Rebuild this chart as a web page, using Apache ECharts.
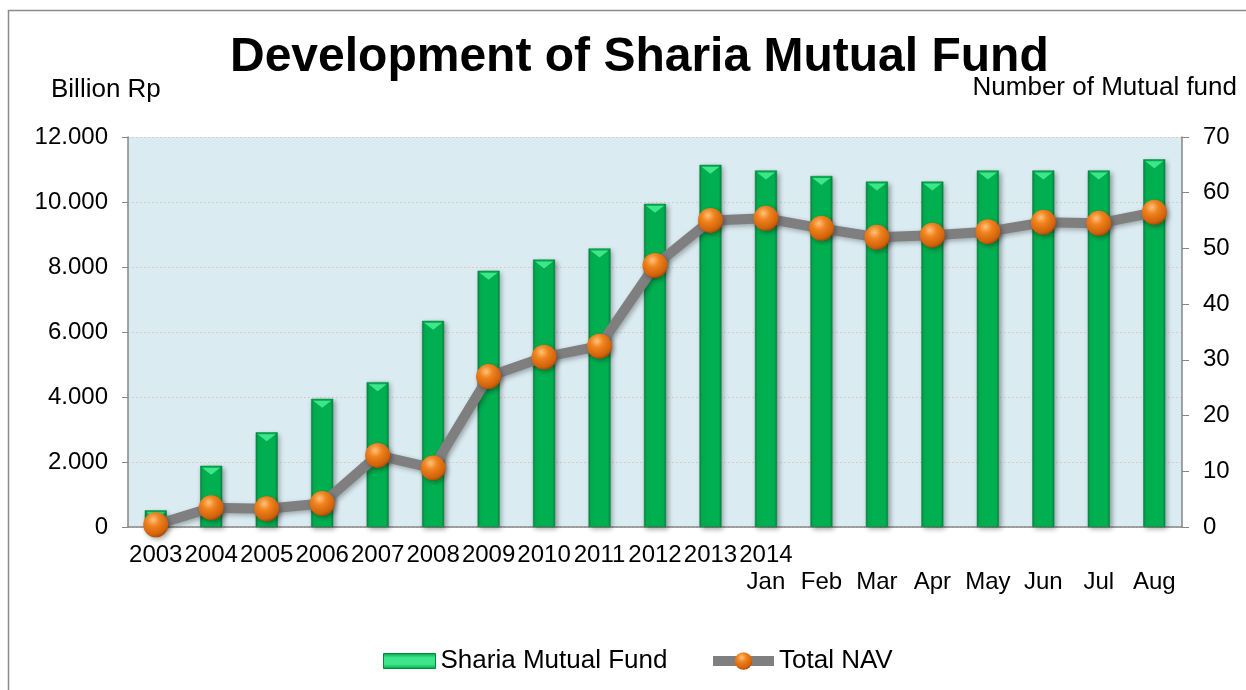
<!DOCTYPE html>
<html>
<head>
<meta charset="utf-8">
<script src="https://cdn.jsdelivr.net/npm/echarts@6/dist/echarts.min.js"></script>
<style>
html,body{margin:0;padding:0;background:#fff;}
#chart{width:1246px;height:690px;}
</style>
</head>
<body>
<div id="chart"></div>
<script>
const categories = ['2003','2004','2005','2006','2007','2008','2009','2010','2011','2012','2013','2014\nJan','\nFeb','\nMar','\nApr','\nMay','\nJun','\nJul','\nAug'];
const fundCount = [3,11,17,23,26,37,46,48,50,58,65,64,63,62,62,64,64,64,66];
const totalNAV = [67,593,559,723,2203,1815,4629,5226,5565,8050,9432,9498,9190,8914,8976,9087,9375,9345,9683];
const leftTicks = {min:0, max:12000, interval:2000};
const rightTicks = {min:0, max:70, interval:10};

const chart = echarts.init(document.getElementById('chart'));
const font = 'Liberation Sans, Arial, sans-serif';
const fmt = v => String(v).replace(/\B(?=(\d{3})+(?!\d))/g, '.');

const barColor = new echarts.graphic.LinearGradient(0,0,1,0,[
  {offset:0,color:'#00843f'},{offset:0.12,color:'#00b050'},
  {offset:0.88,color:'#00b050'},{offset:1,color:'#00843f'}]);
const legendBarColor = new echarts.graphic.LinearGradient(0,0,0,1,[
  {offset:0,color:'#00a04a'},{offset:0.3,color:'#3ee68a'},
  {offset:0.7,color:'#3ee68a'},{offset:1,color:'#00a04a'}]);
const ballColor = new echarts.graphic.RadialGradient(0.4,0.3,0.75,[
  {offset:0,color:'#ffc27a'},{offset:0.35,color:'#f0821e'},
  {offset:0.8,color:'#d0620a'},{offset:1,color:'#9a4306'}]);

chart.setOption({
  backgroundColor:'#fff',
  animation:false,
  textStyle:{fontFamily:font},
  title:{
    text:'Development of Sharia Mutual Fund',
    left:225, top:29,
    textStyle:{fontFamily:font,fontSize:48,fontWeight:'bold',color:'#000'}
  },
  graphic:[
    {type:'rect',shape:{x:8.5,y:10.5,width:1400,height:900},style:{fill:'none',stroke:'#8a8a8a',lineWidth:1.5},silent:true},
    {type:'text',left:51,top:77,style:{text:'Billion Rp',font:'26px '+font,fill:'#000'}},
    {type:'text',right:9,top:75,style:{text:'Number of Mutual fund',font:'26px '+font,fill:'#000'}}
  ],
  legend:[
    {data:[{name:'Sharia Mutual Fund',icon:'rect',itemStyle:{color:legendBarColor,borderColor:'#008a40',borderWidth:1}}],
     left:378, top:643, itemWidth:52, itemHeight:15,
     textStyle:{fontFamily:font,fontSize:26,color:'#000'}},
    {data:[{name:'Total NAV',lineStyle:{width:10,color:'#7f7f7f'}}],
     left:703, top:643, itemWidth:61, itemHeight:22,
     textStyle:{fontFamily:font,fontSize:26,color:'#000'}}
  ],
  grid:{left:128,right:64,top:137,bottom:163,containLabel:false,
        show:true,backgroundColor:'#daebf1',borderWidth:0},
  xAxis:{
    type:'category', data:categories, boundaryGap:true,
    axisLine:{lineStyle:{color:'#868686',width:1.5}},
    axisTick:{show:false},
    axisLabel:{interval:0,fontFamily:font,fontSize:24,color:'#000',margin:15,lineHeight:27}
  },
  yAxis:[
    {type:'value',min:leftTicks.min,max:leftTicks.max,interval:leftTicks.interval,position:'left',
     axisLine:{show:true,lineStyle:{color:'#868686',width:1.5}},
     axisTick:{show:true,length:6,lineStyle:{color:'#868686'}},
     axisLabel:{fontFamily:font,fontSize:24,color:'#000',margin:20,formatter:fmt},
     splitLine:{show:true,lineStyle:{color:'#d5c3c3',type:[1.5,2.5],width:1}}},
    {type:'value',min:rightTicks.min,max:rightTicks.max,interval:rightTicks.interval,position:'right',
     axisLine:{show:true,lineStyle:{color:'#868686',width:1.5}},
     axisTick:{show:true,length:7,lineStyle:{color:'#868686'}},
     axisLabel:{fontFamily:font,fontSize:24,color:'#000',margin:21},
     splitLine:{show:false}}
  ],
  series:[
    {name:'Sharia Mutual Fund',type:'bar',yAxisIndex:1,data:fundCount,barWidth:22,
     itemStyle:{color:barColor,borderColor:'#00803c',borderWidth:0.5,
       shadowColor:'rgba(0,0,0,0.35)',shadowBlur:5,shadowOffsetX:2,shadowOffsetY:2},
     z:2},
    {name:'bevel',type:'pictorialBar',yAxisIndex:1,data:fundCount,barWidth:22,barGap:'-100%',
     symbol:'path://M0,0 L20,0 L10,7 Z',symbolSize:[18,7],symbolPosition:'end',symbolOffset:[0,2],
     itemStyle:{color:'#3ee68a'},silent:true,z:3},
    {name:'Total NAV',type:'line',yAxisIndex:0,data:totalNAV,
     lineStyle:{color:'#7f7f7f',width:10,shadowColor:'rgba(0,0,0,0.3)',shadowBlur:5,shadowOffsetX:2,shadowOffsetY:2},
     symbol:'circle',symbolSize:25,showSymbol:true,
     itemStyle:{color:ballColor,borderWidth:0,shadowColor:'rgba(0,0,0,0.35)',shadowBlur:5,shadowOffsetX:2,shadowOffsetY:2},
     z:5}
  ]
});
</script>
</body>
</html>
